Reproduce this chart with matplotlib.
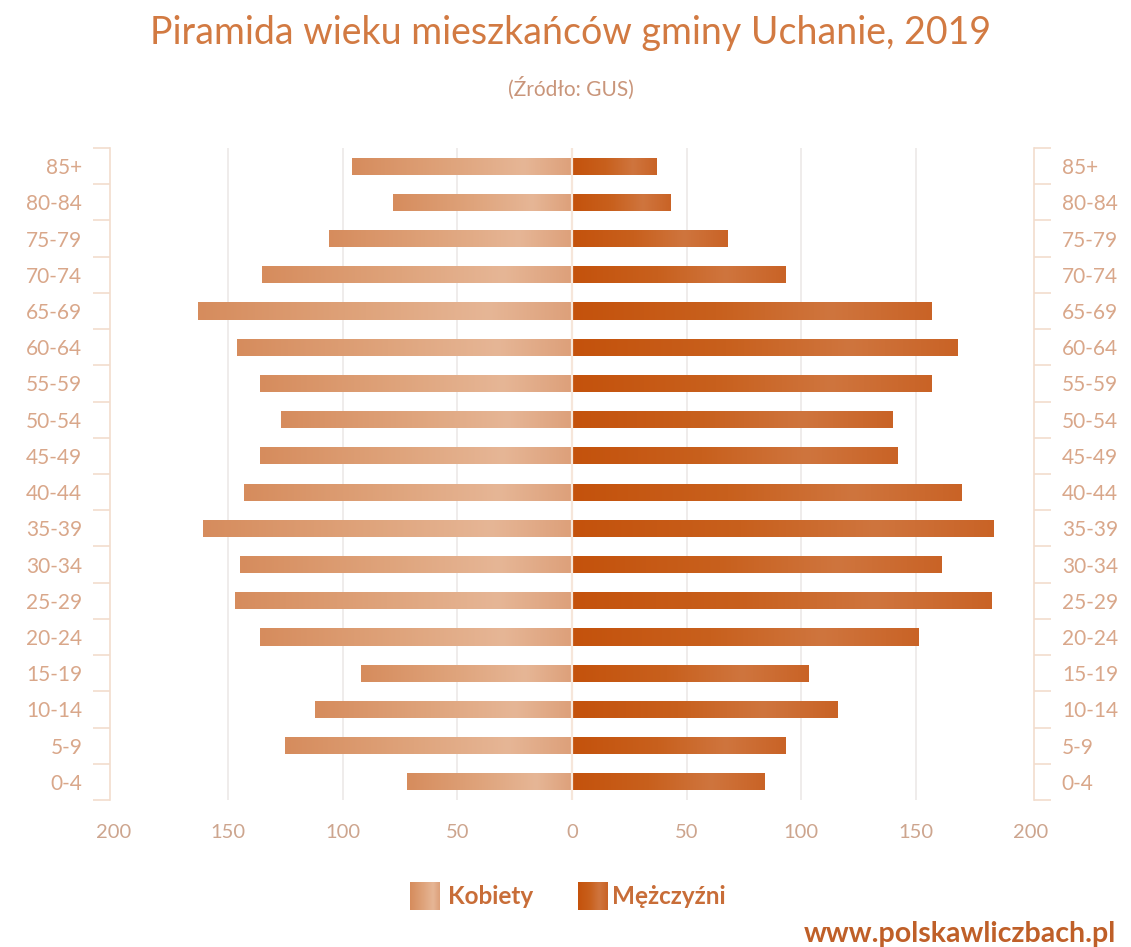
import numpy as np
import matplotlib
matplotlib.use("Agg")
import matplotlib.pyplot as plt
from matplotlib.colors import LinearSegmentedColormap

# ---- data ----
age_groups = ["0-4", "5-9", "10-14", "15-19", "20-24", "25-29", "30-34", "35-39",
              "40-44", "45-49", "50-54", "55-59", "60-64", "65-69", "70-74",
              "75-79", "80-84", "85+"]
women = [72, 125, 112, 92, 136, 147, 145, 161, 143, 136, 127, 136, 146, 163, 135, 106, 78, 96]
men = [84, 93, 116, 103, 151, 183, 161, 184, 170, 142, 140, 157, 168, 157, 93, 68, 43, 37]
xticks = [-200, -150, -100, -50, 0, 50, 100, 150, 200]
xtick_labels = ["200", "150", "100", "50", "0", "50", "100", "150", "200"]

title = "Piramida wieku mieszkańców gminy Uchanie, 2019"
subtitle = "(Źródło: GUS)"
legend_labels = ["Kobiety", "Mężczyźni"]
watermark = "www.polskawliczbach.pl"

plt.rcParams['font.family'] = ['Lato', 'DejaVu Sans']

W, H = 1131, 947
fig = plt.figure(figsize=(W / 100, H / 100), dpi=100)
fig.patch.set_facecolor("white")

ax_left = 110 / W
ax_right = 1034 / W
ax_bottom = 1 - 800 / H
ax_top = 1 - 148 / H
ax = fig.add_axes([ax_left, ax_bottom, ax_right - ax_left, ax_top - ax_bottom])

women_cmap = LinearSegmentedColormap.from_list(
    "w", [(0.0, "#D68C5D"), (0.45, "#DFA47C"), (0.78, "#E6B696"), (1.0, "#DDA07A")])
men_cmap = LinearSegmentedColormap.from_list(
    "m", [(0.0, "#C4520C"), (0.4, "#C8601D"), (0.72, "#CF753E"), (1.0, "#C96326")])

y = np.arange(len(age_groups))
bh = 0.47
spine_col = "#F2DDCD"
grid_col = "#ECE9E7"

ax.set_xlim(-201.5, 201.5)
ax.set_ylim(-0.5, len(age_groups) - 0.5)

for xv in [-150, -100, -50, 0, 50, 100, 150]:
    ax.axvline(xv, color=grid_col, lw=1.2, zorder=0)

wbars = ax.barh(y, [-v for v in women], height=bh, color="none", zorder=2)
mbars = ax.barh(y, men, height=bh, color="none", zorder=2)


def gradient_fill(bars, cmap):
    grad = np.linspace(0, 1, 256).reshape(1, -1)
    for b in bars:
        x0, yb = b.get_x(), b.get_y()
        w, h = b.get_width(), b.get_height()
        xa, xb = min(x0, x0 + w), max(x0, x0 + w)
        im = ax.imshow(grad, cmap=cmap, aspect="auto", extent=[xa, xb, yb, yb + h],
                       zorder=2, interpolation="bicubic")
        im.set_clip_path(b)


gradient_fill(wbars, women_cmap)
gradient_fill(mbars, men_cmap)
ax.axvline(0, color="#F6E6DA", lw=1.6, zorder=3)

ax.set_xlim(-201.5, 201.5)
ax.set_ylim(-0.5, len(age_groups) - 0.5)

# axes styling
for s in ["top", "bottom", "right"]:
    ax.spines[s].set_visible(False)
ax.spines["left"].set_color(spine_col)
ax.spines["left"].set_linewidth(1.2)

ax.set_xticks(xticks)
ax.set_xticklabels(xtick_labels)
ax.tick_params(axis="x", length=0, pad=17, labelsize=14.5, labelcolor="#CDA58E")

ax.set_yticks(y)
ax.set_yticklabels(age_groups)
ax.set_yticks(np.arange(-0.5, len(age_groups), 1.0), minor=True)
ax.tick_params(axis="y", which="major", length=0, pad=20, labelsize=15, labelcolor="#D9A78A")
ax.tick_params(axis="y", which="minor", length=12, width=1.2, color=spine_col)

ax2 = ax.twinx()
ax2.set_ylim(ax.get_ylim())
for s in ["top", "bottom", "left"]:
    ax2.spines[s].set_visible(False)
ax2.spines["right"].set_color(spine_col)
ax2.spines["right"].set_linewidth(1.2)
ax2.set_yticks(y)
ax2.set_yticklabels(age_groups)
ax2.set_yticks(np.arange(-0.5, len(age_groups), 1.0), minor=True)
ax2.tick_params(axis="y", which="major", length=0, pad=20, labelsize=15, labelcolor="#D9A78A")
ax2.tick_params(axis="y", which="minor", length=12, width=1.2, color=spine_col)

# titles
fig.text(571 / W, 1 - 33 / H, title, ha="center", va="center", fontsize=27, color="#D27A42")
fig.text(571 / W, 1 - 88 / H, subtitle, ha="center", va="center", fontsize=15, color="#C9957A")

# legend (manual)
grad = np.linspace(0, 1, 64).reshape(1, -1)
for (x0, cmap, label, tx) in [(410, women_cmap, legend_labels[0], 448),
                               (578, men_cmap, legend_labels[1], 612)]:
    sw = fig.add_axes([x0 / W, 1 - 910 / H, 29 / W, 28 / H])
    sw.imshow(grad, cmap=cmap, aspect="auto", interpolation="bicubic")
    sw.axis("off")
    fig.text(tx / W, 1 - 896 / H, label, ha="left", va="center", fontsize=17.5,
             fontweight="bold", color="#C86D38")

fig.text(1116 / W, 1 - 934 / H, watermark, ha="right", va="center", fontsize=20.5,
         fontweight="bold", color="#BF5F28")

fig.savefig("out.png", dpi=100, facecolor="white")
